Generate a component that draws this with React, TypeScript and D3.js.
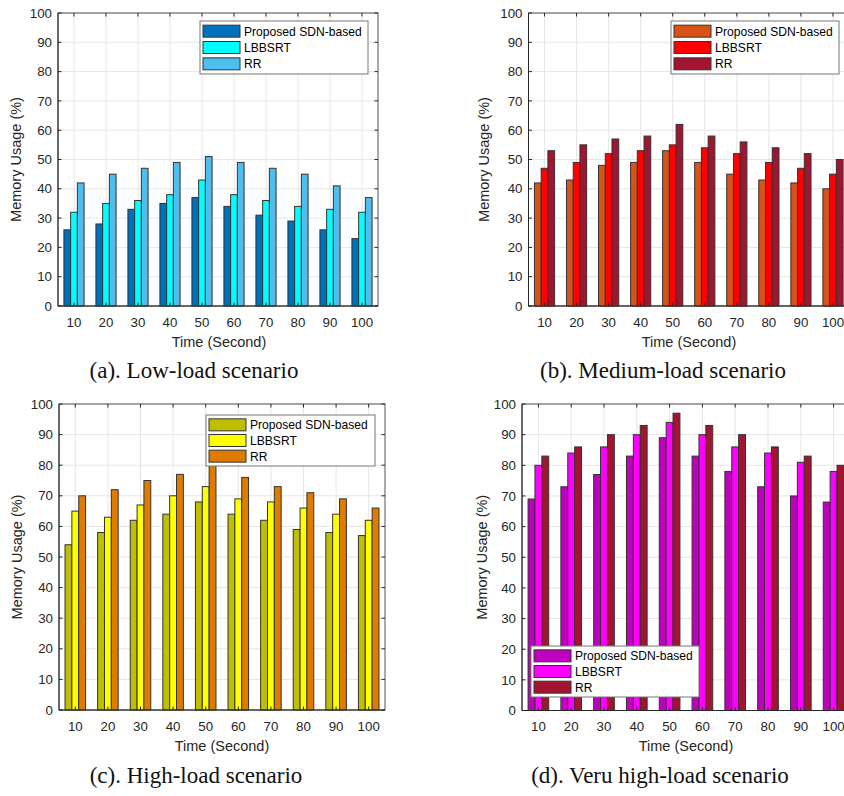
import React from "react";
import * as d3 from "d3";

const times = [10, 20, 30, 40, 50, 60, 70, 80, 90, 100];
const seriesNames = ["Proposed SDN-based", "LBBSRT", "RR"];
const yTicks = [0, 10, 20, 30, 40, 50, 60, 70, 80, 90, 100];

const lowProposed = [26, 28, 33, 35, 37, 34, 31, 29, 26, 23];
const lowLBBSRT = [32, 35, 36, 38, 43, 38, 36, 34, 33, 32];
const lowRR = [42, 45, 47, 49, 51, 49, 47, 45, 41, 37];

const medProposed = [42, 43, 48, 49, 53, 49, 45, 43, 42, 40];
const medLBBSRT = [47, 49, 52, 53, 55, 54, 52, 49, 47, 45];
const medRR = [53, 55, 57, 58, 62, 58, 56, 54, 52, 50];

const highProposed = [54, 58, 62, 64, 68, 64, 62, 59, 58, 57];
const highLBBSRT = [65, 63, 67, 70, 73, 69, 68, 66, 64, 62];
const highRR = [70, 72, 75, 77, 81, 76, 73, 71, 69, 66];

const vhighProposed = [69, 73, 77, 83, 89, 83, 78, 73, 70, 68];
const vhighLBBSRT = [80, 84, 86, 90, 94, 90, 86, 84, 81, 78];
const vhighRR = [83, 86, 90, 93, 97, 93, 90, 86, 83, 80];

const captions = [
  "(a). Low-load scenario",
  "(b). Medium-load scenario",
  "(c). High-load scenario",
  "(d). Veru high-load scenario",
];

type PanelCfg = {
  left: number; right: number; top: number; bottom: number;
  ylabX: number; capX: number; capY: number; tickY: number; xlabY: number; xlabX: number;
  legX: number; legY: number; legW: number; legH: number;
  colors: string[]; data: number[][]; caption: string;
};

const panels: PanelCfg[] = [
  {
    left: 58, right: 378, top: 13, bottom: 306, ylabX: 21, capX: 194, capY: 378,
    tickY: 327, xlabY: 347, xlabX: 219, legX: 200, legY: 21, legW: 168, legH: 53,
    colors: ["#0072BD", "#00FFFF", "#4DBEEE"], data: [lowProposed, lowLBBSRT, lowRR], caption: captions[0],
  },
  {
    left: 528.5, right: 849, top: 13, bottom: 306, ylabX: 489, capX: 663, capY: 378,
    tickY: 327, xlabY: 347, xlabX: 689, legX: 671, legY: 21, legW: 168, legH: 53,
    colors: ["#D95319", "#FF0000", "#A2142F"], data: [medProposed, medLBBSRT, medRR], caption: captions[1],
  },
  {
    left: 59, right: 385, top: 404, bottom: 710, ylabX: 22, capX: 196, capY: 783,
    tickY: 731, xlabY: 751, xlabX: 222, legX: 206, legY: 415, legW: 169, legH: 51,
    colors: ["#BFBF00", "#FFFF00", "#DF7C00"], data: [highProposed, highLBBSRT, highRR], caption: captions[2],
  },
  {
    left: 522, right: 850, top: 404, bottom: 710.5, ylabX: 487, capX: 660, capY: 783,
    tickY: 731, xlabY: 751, xlabX: 686, legX: 531, legY: 646, legW: 168, legH: 51,
    colors: ["#BF00BF", "#FF00FF", "#A2142F"], data: [vhighProposed, vhighLBBSRT, vhighRR], caption: captions[3],
  },
];

const sans = "Liberation Sans, Arial, Helvetica, sans-serif";
const serif = "Liberation Serif, Times New Roman, serif";
const textColor = "#262626";

function Panel({ p }: { p: PanelCfg }) {
  const x = d3.scaleLinear().domain([5, 105]).range([p.left, p.right]);
  const y = d3.scaleLinear().domain([0, 100]).range([p.bottom, p.top]);
  const step = x(20) - x(10);
  const slot = step * 0.21;
  const barW = slot;
  const tick = 3.5;
  return (
    <g>
      {yTicks.map((t) => (
        <line key={"gy" + t} x1={p.left} x2={p.right} y1={y(t)} y2={y(t)} stroke="#e6e6e6" strokeWidth={1} />
      ))}
      {times.map((t) => (
        <line key={"gx" + t} x1={x(t)} x2={x(t)} y1={p.top} y2={p.bottom} stroke="#e6e6e6" strokeWidth={1} />
      ))}
      {p.data.map((vals, si) =>
        vals.map((v, i) => {
          const cx = x(times[i]) + (si - 1) * slot;
          return (
            <rect
              key={"b" + si + "-" + i}
              x={cx - barW / 2}
              y={y(v)}
              width={barW}
              height={y(0) - y(v)}
              fill={p.colors[si]}
              stroke="#333"
              strokeWidth={1}
            />
          );
        })
      )}
      <rect x={p.left} y={p.top} width={p.right - p.left} height={p.bottom - p.top} fill="none" stroke="#555" strokeWidth={1} />
      <line x1={p.left} x2={p.left} y1={p.top} y2={p.bottom} stroke="#262626" />
      <line x1={p.left} x2={p.right} y1={p.bottom} y2={p.bottom} stroke="#262626" />
      {yTicks.map((t) => (
        <g key={"ty" + t}>
          <line x1={p.left} x2={p.left + tick} y1={y(t)} y2={y(t)} stroke="#262626" />
          <line x1={p.right} x2={p.right - tick} y1={y(t)} y2={y(t)} stroke="#262626" />
          <text x={p.left - 6} y={y(t)} dy="0.35em" textAnchor="end" fontFamily={sans} fontSize={13.3} fill={textColor}>
            {t}
          </text>
        </g>
      ))}
      {times.map((t) => (
        <g key={"tx" + t}>
          <line x1={x(t)} x2={x(t)} y1={p.bottom} y2={p.bottom - tick} stroke="#262626" />
          <line x1={x(t)} x2={x(t)} y1={p.top} y2={p.top + tick} stroke="#262626" />
          <text x={x(t)} y={p.tickY} textAnchor="middle" fontFamily={sans} fontSize={13.3} fill={textColor}>
            {t}
          </text>
        </g>
      ))}
      <text x={p.xlabX} y={p.xlabY} textAnchor="middle" fontFamily={sans} fontSize={14.5} fill={textColor}>
        Time (Second)
      </text>
      <text
        transform={`translate(${p.ylabX},${(p.top + p.bottom) / 2}) rotate(-90)`}
        textAnchor="middle"
        fontFamily={sans}
        fontSize={14.5}
        fill={textColor}
      >
        Memory Usage (%)
      </text>
      <rect x={p.legX} y={p.legY} width={p.legW} height={p.legH} fill="#fff" stroke="#777" strokeWidth={1} />
      {seriesNames.map((s, i) => {
        const rowH = (p.legH - 4) / 3;
        const cy = p.legY + 2 + rowH * (i + 0.5);
        return (
          <g key={"l" + i}>
            <rect x={p.legX + 3} y={cy - 6} width={37} height={12} fill={p.colors[i]} stroke="#333" strokeWidth={1} />
            <text x={p.legX + 44} y={cy} dy="0.36em" fontFamily={sans} fontSize={12.1} fill="#000">
              {s}
            </text>
          </g>
        );
      })}
      <text x={p.capX} y={p.capY} textAnchor="middle" fontFamily={serif} fontSize={23} fill="#111">
        {p.caption}
      </text>
    </g>
  );
}

export default function App() {
  return (
    <svg
      width={844}
      height={796}
      viewBox="0 0 844 796"
      style={{ position: "absolute", left: 0, top: 0, background: "#fff" }}
    >
      <rect x={0} y={0} width={844} height={796} fill="#fff" />
      {panels.map((p, i) => (
        <Panel key={i} p={p} />
      ))}
    </svg>
  );
}
